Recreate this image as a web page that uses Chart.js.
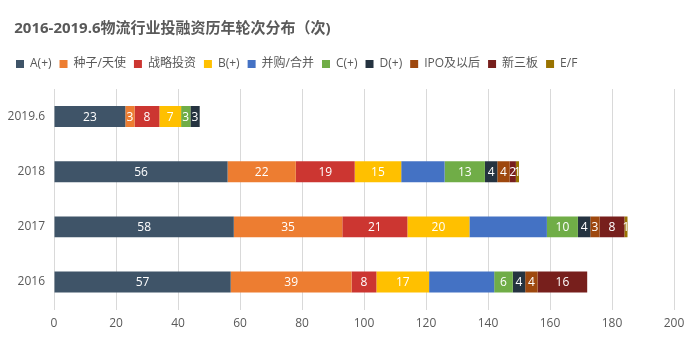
<!DOCTYPE html>
<html>
<head>
<meta charset="utf-8">
<script src="https://cdn.jsdelivr.net/npm/chart.js@4"></script>
<style>
  html, body { margin: 0; padding: 0; background: #fff; }
  #wrap { width: 693px; height: 342px; }
</style>
</head>
<body>
<div id="wrap"><canvas id="roundChart" width="693" height="342"></canvas></div>
<script>
var years = ['2019.6', '2018', '2017', '2016'];
var seriesNames = ['A(+)', '种子/天使', '战略投资', 'B(+)', '并购/合并', 'C(+)', 'D(+)', 'IPO及以后', '新三板', 'E/F'];
var seriesColors = ['#3f5468', '#ed7d31', '#cc3631', '#ffc000', '#4472c4', '#70ad47', '#253340', '#9e480e', '#771f1c', '#997300'];

var aRound   = [23, 56, 58, 57];
var seed     = [3, 22, 35, 39];
var strategy = [8, 19, 21, 8];
var bRound   = [7, 15, 20, 17];
var merger   = [0, 14, 25, 21];
var cRound   = [3, 13, 10, 6];
var dRound   = [3, 4, 4, 4];
var ipo      = [0, 4, 3, 4];
var neeq     = [0, 2, 8, 16];
var efRound  = [0, 1, 1, 0];

var xTicks = [0, 20, 40, 60, 80, 100, 120, 140, 160, 180, 200];

var allValues = [aRound, seed, strategy, bRound, merger, cRound, dRound, ipo, neeq, efRound];
var fontFamily = '"Open Sans", "Noto Sans CJK SC", sans-serif';

var datasets = allValues.map(function (vals, i) {
  return {
    label: seriesNames[i],
    data: vals,
    backgroundColor: seriesColors[i],
    borderWidth: 0,
    barPercentage: 0.76,
    categoryPercentage: 0.5,
    showValues: i !== 4
  };
});

// values written inside each bar segment
const barValues = {
  id: 'barValues',
  afterDatasetsDraw(chart) {
    const { ctx } = chart;
    ctx.save();
    ctx.font = '12px ' + fontFamily;
    ctx.fillStyle = '#ffffff';
    ctx.textAlign = 'center';
    ctx.textBaseline = 'middle';
    chart.data.datasets.forEach(function (ds, i) {
      if (!ds.showValues) return;
      chart.getDatasetMeta(i).data.forEach(function (bar, j) {
        var v = ds.data[j];
        if (!v) return;
        var cx = (bar.x + bar.base) / 2;
        ctx.fillText(String(v), cx, bar.y + 1);
      });
    });
    ctx.restore();
  }
};

// a bit of extra room under the legend
const legendGap = {
  id: 'legendGap',
  beforeInit(chart) {
    var fit = chart.legend.fit;
    chart.legend.fit = function () {
      fit.bind(chart.legend)();
      this.height += 9;
    };
  }
};

var ctx = document.getElementById('roundChart').getContext('2d');
var roundChart = new Chart(ctx, {
  type: 'bar',
  data: { labels: years, datasets: datasets },
  options: {
    indexAxis: 'y',
    responsive: false,
    animation: false,
    layout: { padding: { left: 8, right: 19, top: 8, bottom: 4 } },
    plugins: {
      title: {
        display: true,
        text: '\u2006\u20052016-2019.6物流行业投融资历年轮次分布（次)',
        align: 'start',
        color: '#595959',
        font: { family: fontFamily, size: 15, weight: 'bold' },
        padding: { top: 12, bottom: 12 }
      },
      legend: {
        position: 'top',
        align: 'start',
        labels: {
          boxWidth: 8,
          boxHeight: 8,
          color: '#595959',
          padding: 8,
          font: { family: fontFamily, size: 12 }
        }
      },
      tooltip: { enabled: false }
    },
    scales: {
      x: {
        stacked: true,
        min: 0,
        max: 200,
        afterBuildTicks: function (axis) {
          axis.ticks = xTicks.map(function (v) { return { value: v }; });
        },
        grid: { color: '#d9d9d9', drawTicks: false },
        border: { display: false },
        ticks: { color: '#595959', font: { family: fontFamily, size: 12 }, padding: 7 }
      },
      y: {
        stacked: true,
        afterFit: function (axis) { axis.width = 46; },
        grid: { display: false, drawTicks: false },
        border: { display: true, color: '#d9d9d9' },
        ticks: { color: '#595959', font: { family: fontFamily, size: 12 }, padding: 9 }
      }
    }
  },
  plugins: [barValues, legendGap]
});
</script>
</body>
</html>
